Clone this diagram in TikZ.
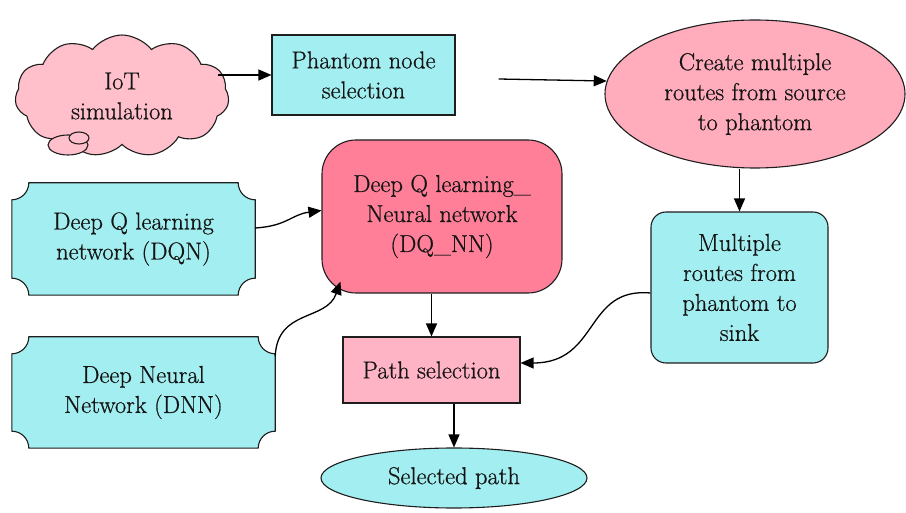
\documentclass[tikz,border=0pt]{standalone}
\usepackage{fontspec}
\setmainfont{DejaVu Serif}
\newfontfamily\labelfont[FakeBold=0.6]{Latin Modern Roman}
\usetikzlibrary{shapes.symbols,shapes.geometric,arrows.meta,calc,backgrounds}

\definecolor{cloudpink}{RGB}{255,191,203}
\definecolor{softpink}{RGB}{255,172,188}
\definecolor{boxpink}{RGB}{255,180,198}
\definecolor{hotpink}{RGB}{255,127,153}
\definecolor{aqua}{RGB}{162,238,240}
\definecolor{edge}{RGB}{30,30,30}

\tikzset{
  lbl/.style={font=\labelfont\fontsize{24.5}{30}\selectfont, align=center, text=black!92},
  outline/.style={draw=edge, line width=1.1pt},
  arr/.style={draw=black, line width=1.3pt, -{Triangle[length=13pt,width=11pt]}},
  plaquefill/.style={outline, fill=aqua},
}

% plaque outline (rectangle with concave rounded corners) around a named node
\newcommand\plaqueoutline[2]{%
  \path[plaquefill]
    ($(#1.north west)+(#2,0)$) -- ($(#1.north east)+(-#2,0)$)
    arc[start angle=180,end angle=270,radius=#2]
    -- ($(#1.south east)+(0,#2)$)
    arc[start angle=90,end angle=180,radius=#2]
    -- ($(#1.south west)+(#2,0)$)
    arc[start angle=0,end angle=90,radius=#2]
    -- ($(#1.north west)+(0,-#2)$)
    arc[start angle=270,end angle=360,radius=#2]
    -- cycle;}

\begin{document}
\begin{tikzpicture}[x=1pt,y=1pt]
\useasboundingbox (0,0) rectangle (906,512);

% IoT cloud with its small bubbles
\node[cloud, cloud puffs=11, cloud puff arc=105, cloud ignores aspect,
      minimum width=214pt, minimum height=122pt, outline, fill=cloudpink, lbl]
  (cloud) at (122,416) {IoT\\simulation};
\path[outline, fill=cloudpink] (68,367) ellipse[x radius=20, y radius=10];
\path[outline, fill=cloudpink] (79,374) ellipse[x radius=10, y radius=6];

% top row
\node[rectangle, outline, fill=aqua, minimum width=183pt, minimum height=80pt, lbl]
  (phantom) at (363.5,437) {Phantom node\\selection};
\node[ellipse, outline, fill=softpink, minimum width=300pt, minimum height=148pt,
      inner sep=0pt, lbl]
  (create) at (755,418) {Create multiple\\routes from source\\to phantom};

% right column
\node[rectangle, rounded corners=15pt, outline, fill=aqua, minimum width=177pt,
      minimum height=151pt, lbl]
  (multiple) at (739.5,224.5) {Multiple\\routes from\\phantom to\\sink};

% centre column
\node[rectangle, rounded corners=34pt, outline, fill=hotpink, minimum width=240pt,
      minimum height=153pt, lbl]
  (dqnn) at (442,295.5) {Deep Q learning\_\\Neural network\\(DQ\_NN)};
\node[rectangle, outline, fill=boxpink, minimum width=177pt, minimum height=66pt, lbl]
  (path) at (431.5,142) {Path selection};
\node[ellipse, outline, fill=aqua, minimum width=266pt, minimum height=60pt,
      inner sep=0pt, lbl]
  (sel) at (454,34) {Selected path};

% left column plaques
\node[minimum width=243pt, minimum height=112pt, lbl]
  (dqn) at (133.5,273) {Deep Q learning\\network (DQN)};
\node[minimum width=263pt, minimum height=111pt, lbl]
  (dnn) at (143.5,119.5) {Deep Neural\\Network (DNN)};
\begin{scope}[on background layer]
  \plaqueoutline{dqn}{17pt}
  \plaqueoutline{dnn}{17pt}
\end{scope}

% connectors
\draw[arr] ([xshift=-11pt]cloud.east |- phantom.west) -- (phantom.west);
\draw[arr] ([xshift=43pt,yshift=-4pt]phantom.east) -- (create.175);
\draw[arr] (create.south -| multiple.north) -- (multiple.north);
\draw[arr] ([yshift=11pt]dqn.east) .. controls +(32,2) and +(-30,-4) .. ([yshift=6pt]dqnn.west);
\draw[arr] ([yshift=36pt]dnn.east) .. controls +(2,48) and +(-14,-40) .. ([xshift=19pt,yshift=12pt]dqnn.south west);
\draw[arr] (dqnn.south -| path.north) -- (path.north);
\draw[arr] (path.south -| sel.north) -- (sel.north);
\draw[arr] ([yshift=-5.5pt]multiple.west) .. controls +(-66,6) and +(79,0) .. ([yshift=7pt]path.east);
\end{tikzpicture}
\end{document}
